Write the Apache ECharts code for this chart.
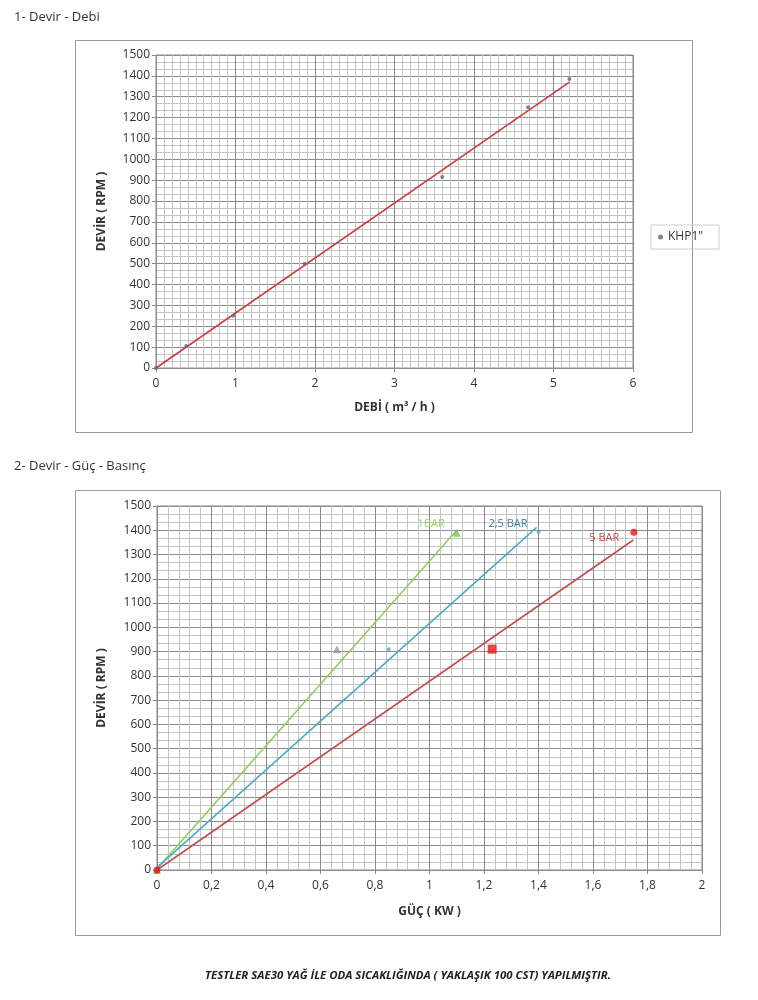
<!DOCTYPE html>
<html>
<head>
<meta charset="utf-8">
<script src="https://cdn.jsdelivr.net/npm/echarts@6/dist/echarts.min.js"></script>
<style>html,body{margin:0;padding:0;background:#fff}#c{width:758px;height:1000px}</style>
</head>
<body>
<div id="c"></div>
<script>
// Chart 1: Devir - Debi
const debiPoints = [[0,0],[0.38,105],[0.97,250],[1.87,500],[3.6,915],[4.68,1250],[5.2,1385]];
const debiTrend = [[0,0],[5.2,1370]];
const debiSeriesName = 'KHP1"';

// Chart 2: Devir - Güç - Basınç
const bar1Points = [[0,0],[0.66,910],[1.1,1390]];
const bar1Trend = [[0,5],[1.1,1400]];
const bar25Points = [[0,0],[0.85,910],[1.4,1393]];
const bar25Trend = [[0,10],[1.393,1412]];
const bar5Points = [[0,0],[1.23,910],[1.75,1392]];
const bar5Trend = [[0,0],[1.748,1360]];
const lineLabels = ['1BAR','2,5 BAR','5 BAR'];

const yTicks = {min:0, max:1500, interval:100};
const x1Ticks = {min:0, max:6, interval:1};
const x2Ticks = {min:0, max:2, interval:0.2};

const FONT = '"Open Sans", "Noto Sans", sans-serif';
const majorLine = {show:true, lineStyle:{color:'#8a8a8a', width:1}};
const minorLine = {show:true, lineStyle:{color:'#c4c4c4', width:1}};
const axisLbl = {color:'#333', fontSize:12, fontFamily:FONT};
const nameStyle = {color:'#333', fontSize:12, fontWeight:'bold', fontFamily:FONT};

function fmtComma(v){ return String(+v.toFixed(2)).replace('.', ','); }
function fmtPlain(v){ return String(v); }

function endMark(trend, text, color, dist, dy){
  return {
    symbol:'circle', symbolSize:0, silent:true,
    data:[{coord:trend[trend.length-1]}],
    label:{show:true, position:'left', distance:dist, offset:[0,dy], formatter:text,
           color:color, fontSize:11, fontFamily:FONT}
  };
}

const chart = echarts.init(document.getElementById('c'), null, {renderer:'canvas'});
chart.setOption({
  animation:false,
  backgroundColor:'#fff',
  title:[
    {text:'1- Devir - Debi', left:14, top:11, padding:0, textStyle:{fontSize:13, fontWeight:'normal', color:'#333', fontFamily:FONT}},
    {text:'2- Devir - Güç - Basınç', left:14, top:460, padding:0, textStyle:{fontSize:13, fontWeight:'normal', color:'#333', fontFamily:FONT}},
    {text:'TESTLER SAE30 YAĞ İLE ODA SICAKLIĞINDA ( YAKLAŞIK 100 CST) YAPILMIŞTIR.', left:205, top:970, padding:0,
     textStyle:{fontSize:11.4, fontWeight:'bold', fontStyle:'italic', color:'#222', fontFamily:FONT}}
  ],
  graphic:[
    {type:'rect', shape:{x:75.5, y:40.5, width:617, height:392}, style:{fill:'none', stroke:'#9a9a9a', lineWidth:1}, z:-1},
    {type:'rect', shape:{x:75.5, y:490.5, width:645, height:445}, style:{fill:'none', stroke:'#9a9a9a', lineWidth:1}, z:-1}
  ],
  legend:{
    data:[{name:debiSeriesName, icon:'circle'}],
    left:651, top:225, orient:'vertical',
    itemWidth:5, itemHeight:5, itemGap:4,
    padding:[6,16,6,7],
    borderColor:'#cfcfcf', borderWidth:1,
    textStyle:{fontSize:12, color:'#333', fontFamily:FONT}
  },
  grid:[
    {left:156, top:55, width:477, height:313, show:true, borderColor:'#8a8a8a', borderWidth:1},
    {left:157, top:506, width:545, height:364, show:true, borderColor:'#8a8a8a', borderWidth:1}
  ],
  xAxis:[
    {gridIndex:0, type:'value', min:x1Ticks.min, max:x1Ticks.max, interval:x1Ticks.interval,
     name:'DEBİ ( m³ / h )', nameLocation:'middle', nameGap:34, nameTextStyle:nameStyle,
     axisLine:{show:true, lineStyle:{color:'#8a8a8a'}}, axisTick:{show:true, length:4, lineStyle:{color:'#8a8a8a'}},
     axisLabel:Object.assign({margin:10, formatter:fmtPlain}, axisLbl),
     splitLine:majorLine, minorTick:{show:true, splitNumber:10, length:0}, minorSplitLine:minorLine},
    {gridIndex:1, type:'value', min:x2Ticks.min, max:x2Ticks.max, interval:x2Ticks.interval,
     name:'GÜÇ ( KW )', nameLocation:'middle', nameGap:36, nameTextStyle:nameStyle,
     axisLine:{show:true, lineStyle:{color:'#8a8a8a'}}, axisTick:{show:true, length:4, lineStyle:{color:'#8a8a8a'}},
     axisLabel:Object.assign({margin:10, formatter:fmtComma}, axisLbl),
     splitLine:majorLine, minorTick:{show:true, splitNumber:5, length:0}, minorSplitLine:minorLine}
  ],
  yAxis:[
    {gridIndex:0, type:'value', min:yTicks.min, max:yTicks.max, interval:yTicks.interval,
     name:'DEVİR ( RPM )', nameLocation:'middle', nameGap:48, nameTextStyle:nameStyle,
     axisLine:{show:true, lineStyle:{color:'#8a8a8a'}}, axisTick:{show:true, length:4, lineStyle:{color:'#8a8a8a'}},
     axisLabel:Object.assign({margin:6, formatter:fmtPlain}, axisLbl),
     splitLine:majorLine, minorTick:{show:true, splitNumber:3, length:0}, minorSplitLine:minorLine},
    {gridIndex:1, type:'value', min:yTicks.min, max:yTicks.max, interval:yTicks.interval,
     name:'DEVİR ( RPM )', nameLocation:'middle', nameGap:49, nameTextStyle:nameStyle,
     axisLine:{show:true, lineStyle:{color:'#8a8a8a'}}, axisTick:{show:true, length:4, lineStyle:{color:'#8a8a8a'}},
     axisLabel:Object.assign({margin:6, formatter:fmtPlain}, axisLbl),
     splitLine:majorLine, minorTick:{show:true, splitNumber:3, length:0}, minorSplitLine:minorLine}
  ],
  series:[
    {type:'line', xAxisIndex:0, yAxisIndex:0, data:debiTrend, symbol:'none', silent:true,
     lineStyle:{color:'#cc3b3f', width:1.6}, z:3},
    {type:'scatter', name:debiSeriesName, xAxisIndex:0, yAxisIndex:0, data:debiPoints, symbol:'circle', symbolSize:4,
     itemStyle:{color:'#666'}, z:4},

    {type:'line', xAxisIndex:1, yAxisIndex:1, data:bar1Trend, symbol:'none', lineStyle:{color:'#8fcf5a', width:1.6},
     markPoint:endMark(bar1Trend, lineLabels[0], '#9bd46a', 12, -6), z:3},
    {type:'line', xAxisIndex:1, yAxisIndex:1, data:bar25Trend, symbol:'none', lineStyle:{color:'#4bacc6', width:1.6},
     markPoint:endMark(bar25Trend, lineLabels[1], '#3f7f9a', 9, -3), z:3},
    {type:'line', xAxisIndex:1, yAxisIndex:1, data:bar5Trend, symbol:'none', lineStyle:{color:'#c0504d', width:1.6},
     markPoint:endMark(bar5Trend, lineLabels[2], '#c0504d', 14, -2), z:3},

    {type:'scatter', xAxisIndex:1, yAxisIndex:1, data:bar1Points, symbol:'triangle', symbolSize:8,
     itemStyle:{color:function(p){return p.dataIndex===1?'#9a9a9a':'#7fbf4d';}}, z:4},
    {type:'scatter', xAxisIndex:1, yAxisIndex:1, data:bar25Points, symbol:'circle', symbolSize:4,
     itemStyle:{color:'#4bacc6'}, z:4},
    {type:'scatter', xAxisIndex:1, yAxisIndex:1, data:bar5Points,
     symbol:function(v,p){return p.dataIndex===1?'rect':'circle';},
     symbolSize:function(v,p){return p.dataIndex===1?9:7;},
     itemStyle:{color:'#ee1111'}, z:5}
  ]
});
</script>
</body>
</html>
